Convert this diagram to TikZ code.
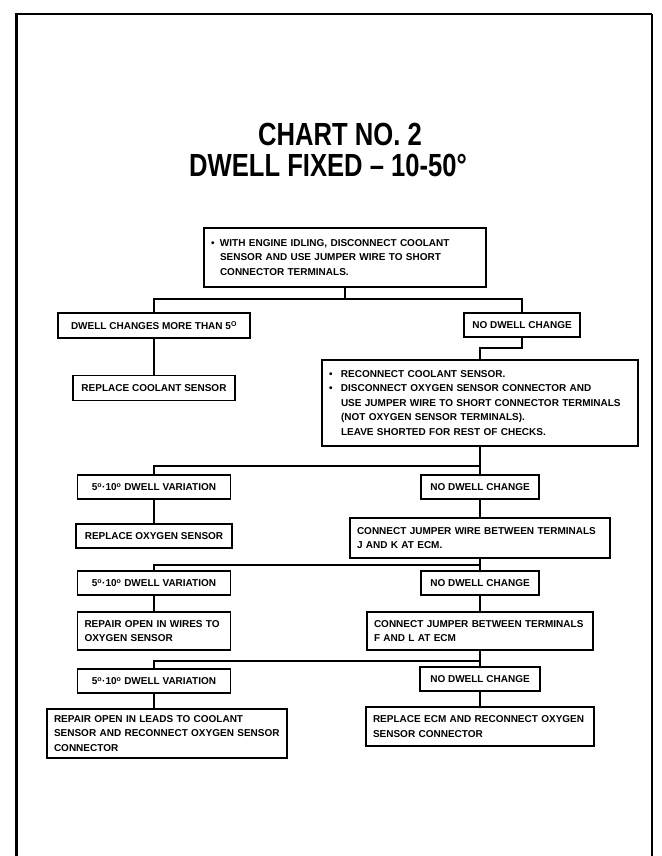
\documentclass[tikz,border=0pt]{standalone}
\usepackage{fontspec}
\setmainfont{Liberation Sans}
\newfontfamily\titlefont{Liberation Sans}[FakeStretch=0.8]
\begin{document}
\begin{tikzpicture}[x=1pt,y=-1pt,
  box/.style={draw, line width=1.3pt, inner xsep=7pt, inner ysep=0pt,
    font=\fontsize{10}{14.5}\selectfont\bfseries, anchor=center},
  lbl/.style={box, align=center},
  txt/.style={box, align=left},
  link/.style={line width=1.3pt},
  heading/.style={font=\fontsize{32}{36}\selectfont\titlefont\bfseries, anchor=base, inner sep=0pt}]
\useasboundingbox (0,0) rectangle (661,856);
\fill[white] (0,0) rectangle (661,856);

% page frame (open at the bottom)
\draw[line width=3pt] (16,856) -- (16,13);
\draw[line width=1.8pt] (14.5,14) -- (652,14);
\draw[line width=1.2pt] (652,14) -- (652,856);

% heading
\node[heading] (t1) at (340,145.5) {CHART NO. 2};
\node[heading] (t2) at (328,176.5) {DWELL FIXED \textendash{} 10-50°};

% first check
\node[txt, text width=268pt, minimum height=59pt] (top) at (345,257.5)
  {\makebox[9pt][l]{\textbullet}WITH ENGINE IDLING, DISCONNECT COOLANT\\
   \hspace*{9pt}SENSOR AND USE JUMPER WIRE TO SHORT\\
   \hspace*{9pt}CONNECTOR TERMINALS.};

% single-line boxes: fixed outer width, text kept on one line
\node[lbl, minimum width=192pt, minimum height=25pt] (dc) at (154,325.5)
  {DWELL CHANGES MORE THAN 5\textsuperscript{O}};
\node[lbl, minimum width=116pt, minimum height=24pt] (nd1) at (522,325)
  {NO DWELL CHANGE};
\node[lbl, minimum width=162pt, minimum height=25pt] (rc) at (154,388)
  {REPLACE COOLANT SENSOR};

% oxygen sensor check
\node[txt, text width=302pt, minimum height=86pt] (big) at (480,403)
  {\makebox[12pt][l]{\textbullet}RECONNECT COOLANT SENSOR.\\
   \makebox[12pt][l]{\textbullet}DISCONNECT OXYGEN SENSOR CONNECTOR AND\\
   \hspace*{12pt}USE JUMPER WIRE TO SHORT CONNECTOR TERMINALS\\
   \hspace*{12pt}(NOT OXYGEN SENSOR TERMINALS).\\
   \hspace*{12pt}LEAVE SHORTED FOR REST OF CHECKS.};

\node[lbl, minimum width=153pt, minimum height=24pt] (va) at (154,487)
  {5\textsuperscript{o}·10\textsuperscript{o} DWELL VARIATION};
\node[lbl, minimum width=118pt, minimum height=24pt] (nd2) at (480,487)
  {NO DWELL CHANGE};
\node[lbl, minimum width=156pt, minimum height=24pt] (ro) at (154,536)
  {REPLACE OXYGEN SENSOR};
\node[txt, text width=246pt, minimum height=40pt] (jk) at (480,538)
  {CONNECT JUMPER WIRE BETWEEN TERMINALS\\J AND K AT ECM.};

\node[lbl, minimum width=153pt, minimum height=24pt] (vb) at (154,583)
  {5\textsuperscript{o}·10\textsuperscript{o} DWELL VARIATION};
\node[lbl, minimum width=118pt, minimum height=24pt] (nd3) at (480,583)
  {NO DWELL CHANGE};
\node[txt, text width=139pt, minimum height=38pt] (rw) at (154,631)
  {REPAIR OPEN IN WIRES TO\\OXYGEN SENSOR};
\node[txt, text width=212pt, minimum height=38pt] (fl) at (480,631)
  {CONNECT JUMPER BETWEEN TERMINALS\\F AND L AT ECM};

\node[lbl, minimum width=153pt, minimum height=24pt] (vc) at (154,681)
  {5\textsuperscript{o}·10\textsuperscript{o} DWELL VARIATION};
\node[lbl, minimum width=120pt, minimum height=24pt] (nd4) at (480,679)
  {NO DWELL CHANGE};
\node[txt, text width=226pt, minimum height=49pt] (rl) at (167,733.5)
  {REPAIR OPEN IN LEADS TO COOLANT\\SENSOR AND RECONNECT OXYGEN SENSOR\\CONNECTOR};
\node[txt, text width=214pt, minimum height=39pt] (ecm) at (480,726.5)
  {REPLACE ECM AND RECONNECT OXYGEN\\SENSOR CONNECTOR};

% junction points of the branch lines
\coordinate (r1) at (345,299);
\coordinate (k1) at (522,348);
\coordinate (r2) at (480,466);
\coordinate (r3) at (480,565);
\coordinate (r4) at (480,661);

% connectors
\draw[link] (top.south) -- (r1);
\draw[link] (dc.north) |- (r1) -| (nd1.north);
\draw[link] (dc.south) -- (rc.north);
\draw[link] (nd1.south) -- (k1) -| (big.north);

\draw[link] (big.south) -- (r2) -| (va.north);
\draw[link] (r2) -- (nd2.north);
\draw[link] (va.south) -- (ro.north);
\draw[link] (nd2.south) -- (jk.north);

\draw[link] (jk.south) -- (r3) -| (vb.north);
\draw[link] (r3) -- (nd3.north);
\draw[link] (vb.south) -- (rw.north);
\draw[link] (nd3.south) -- (fl.north);

\draw[link] (fl.south) -- (r4) -| (vc.north);
\draw[link] (r4) -- (nd4.north);
\draw[link] (vc.south) -- (vc.south |- rl.north);
\draw[link] (nd4.south) -- (ecm.north);
\end{tikzpicture}
\end{document}
